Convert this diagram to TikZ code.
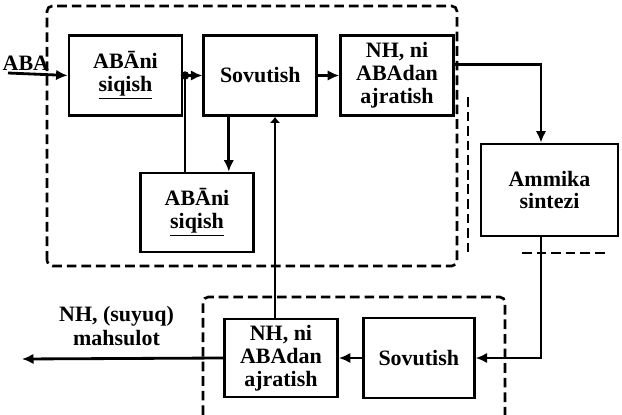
\documentclass[tikz,border=0pt]{standalone}
\usepackage{fontspec}
\setmainfont{Liberation Serif}
\usetikzlibrary{arrows.meta}
\usetikzlibrary{positioning}

\begin{document}
\begin{tikzpicture}[
    x=0.02cm, y=-0.02cm,
    node distance=0.4cm,
    blok/.style={rectangle, draw, line width=1.6pt,
      minimum width=2.26cm, minimum height=1.6cm,
      align=center, inner sep=1pt,
      font=\fontsize{12.5}{13}\selectfont\bfseries},
    chegara/.style={draw, line width=1.5pt,
      dash pattern=on 5.5pt off 2.8pt, rounded corners=3pt},
    arrow/.style={-{Latex[length=2.3mm, width=2.1mm]}, line width=1.6pt},
    qisqa/.style={-{Latex[length=1.2mm, width=2.1mm]}, line width=1.6pt},
    lbl/.style={font=\fontsize{12.5}{13.5}\selectfont\bfseries, align=center},
  ]
  \useasboundingbox (0,0) rectangle (622,415);

  % Dashed borders
  \draw[chegara] (47,266) rectangle (457,6);
  \draw[chegara] (203,415) -- (203,297) -- (505,297) -- (505,415);
  \draw[chegara] (468,97) -- (468,252);
  \draw[chegara] (522,253) -- (605,253);

  % Top row
  \node[blok] (siqish) at (125.5,75.5) {AB\=Ani\\\underline{siqish}};
  \node[blok, right=0.38cm of siqish] (sovutish) {Sovutish};
  \node[blok, right=0.42cm of sovutish] (ajrat) {NH, ni\\ABAdan\\ajratish};

  % Second compressor
  \node[blok, minimum height=1.58cm] (siqishB) at (197,212.5) {AB\=Ani\\\underline{siqish}};

  % Synthesis
  \node[blok, minimum width=2.74cm, minimum height=1.84cm] (ammika) at (549.5,190) {Ammika\\sintezi};

  % Bottom row
  \node[blok, minimum height=1.56cm] (ajratB) at (281,358) {NH, ni\\ABAdan\\ajratish};
  \node[blok, right=0.46cm of ajratB, minimum width=2.22cm] (sovutishB) {Sovutish};

  % Free ends
  \coordinate (kirish) at (8,73);
  \coordinate (chiqish) at (22,359);

  % Arrows
  \draw[arrow] (kirish) -- node[lbl, above, pos=0.3, inner sep=1pt] {ABA} (siqish.west);
  \draw[arrow] (siqish) -- (sovutish);
  \draw[arrow] (sovutish) -- (ajrat);
  \draw[arrow] ([yshift=0.22cm]ajrat.east) -| ([xshift=-0.17cm]ammika.north);
  \draw[arrow] ([xshift=-0.17cm]ammika.south) |- (sovutishB.east);
  \draw[arrow] (sovutishB) -- (ajratB);
  \draw[arrow] (ajratB.west) -- node[lbl, above=0.12cm, pos=0.53] {NH, (suyuq)\\mahsulot} (chiqish);

  % Recycle lines
  \draw[arrow] ([xshift=-0.63cm]sovutish.south) -- ([xshift=-0.63cm]sovutish.south |- siqishB.north);
  \draw[line width=1.6pt] ([xshift=-0.24cm]siqishB.north) -- ([xshift=-0.24cm]siqishB.north |- siqish.east);
  \fill ([xshift=-0.24cm]siqishB.north |- siqish.east) circle (2.4pt);
  \draw[qisqa] ([xshift=-0.12cm]ajratB.north) -- ([xshift=-0.12cm]ajratB.north |- sovutish.south);

\end{tikzpicture}
\end{document}
